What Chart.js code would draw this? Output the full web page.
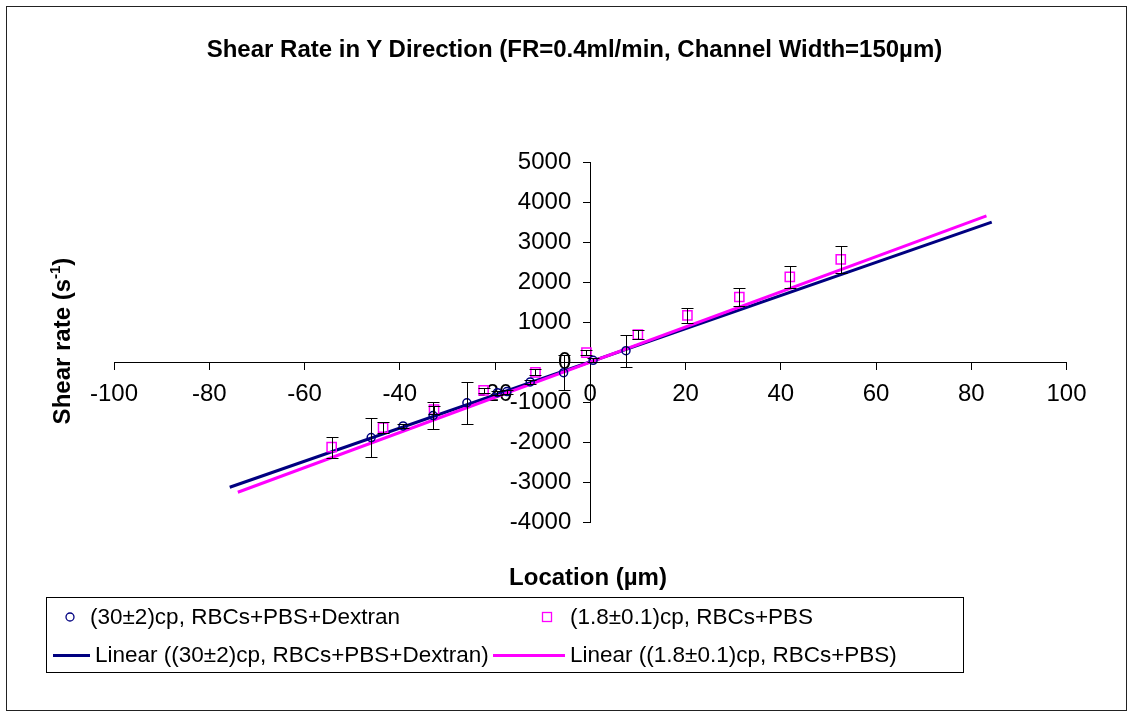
<!DOCTYPE html>
<html lang="en">
<head>
  <meta charset="UTF-8" />
  <title>Shear Rate in Y Direction</title>
  <script src="https://cdn.jsdelivr.net/npm/chart.js"></script>
  <style>
    body { margin: 0; background: #fff; font-family: "Liberation Sans", Arial, sans-serif; }
    #wrap { position: relative; width: 1133px; height: 719px; overflow: hidden; }
    #c { position: absolute; left: 0; top: 0; }
    #frame { position: absolute; left: 6px; top: 6px; width: 1121px; height: 705px; border: 1px solid #222; box-sizing: border-box; }
    .txt { position: absolute; white-space: nowrap; color: #000; line-height: 28px; }
    #title { left: 0; top: 35px; width: 1149px; text-align: center; font-weight: bold; font-size: 24px; }
    #xTitle { left: 588px; top: 577px; transform: translate(-50%, -50%); font-weight: bold; font-size: 24px; }
    #yTitle { left: 62px; top: 341px; transform: translate(-50%, -50%) rotate(-90deg); font-weight: bold; font-size: 24px; }
    #yTitle sup { font-size: 15px; vertical-align: 10px; line-height: 0; }
    #legendBox { position: absolute; left: 46px; top: 597px; width: 918px; height: 76px; border: 1px solid #000; box-sizing: border-box; }
    .leg { font-size: 22.5px; }
    .mk { position: absolute; }
  </style>
</head>
<body>
  <div id="wrap">
    <canvas id="c" width="1133" height="719"></canvas>
    <div id="frame"></div>
    <div class="txt" id="title">Shear Rate in Y Direction (FR=0.4ml/min, Channel Width=150µm)</div>
    <div class="txt" id="xTitle">Location (µm)</div>
    <div class="txt" id="yTitle">Shear rate (s<sup>-1</sup>)</div>

    <div id="legendBox"></div>
    <svg class="mk" style="left:64px;top:611px" width="12" height="12">
      <circle cx="6" cy="6" r="4" fill="none" stroke="#000080" stroke-width="1.3" />
    </svg>
    <div class="txt leg" style="left:90px;top:603px">(30±2)cp, RBCs+PBS+Dextran</div>
    <svg class="mk" style="left:541px;top:611px" width="12" height="12">
      <rect x="1.5" y="1.5" width="9" height="9" fill="none" stroke="#ff00ff" stroke-width="1.3" />
    </svg>
    <div class="txt leg" style="left:570px;top:603px">(1.8±0.1)cp, RBCs+PBS</div>
    <svg class="mk" style="left:53px;top:654px" width="37" height="3">
      <rect x="0" y="0" width="37" height="3" fill="#000080" />
    </svg>
    <div class="txt leg" style="left:95px;top:641px">Linear ((30±2)cp, RBCs+PBS+Dextran)</div>
    <svg class="mk" style="left:493px;top:654px" width="72" height="3">
      <rect x="0" y="0" width="72" height="3" fill="#ff00ff" />
    </svg>
    <div class="txt leg" style="left:570px;top:641px">Linear ((1.8±0.1)cp, RBCs+PBS)</div>
  </div>

  <script>
    // axis ranges (ticks come from the step)
    const xMin = -100, xMax = 100, xStep = 20;
    const yMin = -4000, yMax = 5000, yStep = 1000;

    // (30±2)cp, RBCs+PBS+Dextran
    const dextranX = [-46.0, -39.3, -33.0, -25.9, -19.5, -17.5, -12.6, -5.6, 0.6, 7.5];
    const dextranY = [-1880, -1590, -1330, -1010, -760, -730, -490, -260, 50, 290];
    const dextranErr = [480, 55, 340, 530, 50, 50, 50, 430, 50, 400];

    // (1.8±0.1)cp, RBCs+PBS
    const pbsX = [-54.3, -43.5, -32.8, -22.4, -11.5, -0.8, 10.0, 20.4, 31.3, 41.9, 52.6];
    const pbsY = [-2120, -1630, -1180, -700, -250, 240, 690, 1170, 1630, 2130, 2570];
    const pbsErr = [260, 145, 100, 60, 80, 60, 120, 180, 230, 270, 340];

    // linear trendline end points as drawn
    const dextranFitX = [-75.7, 84.3];
    const dextranFitY = [-3120, 3500];
    const pbsFitX = [-74.0, 83.2];
    const pbsFitY = [-3245, 3655];

    const NAVY = '#000080';
    const MAGENTA = '#ff00ff';
    const FONT = '"Liberation Sans", Arial, sans-serif';

    const pts = (xs, ys) => xs.map((x, i) => ({ x: x, y: ys[i] }));

    const errorBars = {
      id: 'errorBars',
      afterDatasetsDraw(chart) {
        const { ctx } = chart;
        const xs = chart.scales.x, ys = chart.scales.y;
        ctx.save();
        ctx.strokeStyle = '#000';
        ctx.lineWidth = 1;
        [[dextranX, dextranY, dextranErr], [pbsX, pbsY, pbsErr]].forEach(([dx, dy, de]) => {
          dx.forEach((xv, i) => {
            const px = Math.round(xs.getPixelForValue(xv)) + 0.5;
            const top = Math.round(ys.getPixelForValue(dy[i] + de[i])) + 0.5;
            const bot = Math.round(ys.getPixelForValue(dy[i] - de[i])) + 0.5;
            ctx.beginPath();
            ctx.moveTo(px, top); ctx.lineTo(px, bot);
            ctx.moveTo(px - 6, top); ctx.lineTo(px + 6, top);
            ctx.moveTo(px - 6, bot); ctx.lineTo(px + 6, bot);
            ctx.stroke();
          });
        });
        ctx.restore();
      }
    };

    const axisStyle = {
      grid: { drawOnChartArea: false, drawTicks: true, tickLength: 7, color: '#000' },
      border: { color: '#000', width: 1 }
    };

    new Chart(document.getElementById('c'), {
      type: 'scatter',
      data: {
        datasets: [
          {
            label: '(30±2)cp, RBCs+PBS+Dextran',
            data: pts(dextranX, dextranY),
            pointStyle: 'circle',
            pointRadius: 4,
            borderColor: NAVY,
            backgroundColor: 'rgba(0,0,0,0)',
            borderWidth: 1.5
          },
          {
            label: '(1.8±0.1)cp, RBCs+PBS',
            data: pts(pbsX, pbsY),
            pointStyle: 'rect',
            pointRadius: 6.5,
            borderColor: MAGENTA,
            backgroundColor: 'rgba(0,0,0,0)',
            borderWidth: 1.5
          },
          {
            label: 'Linear ((1.8±0.1)cp, RBCs+PBS)',
            data: pts(pbsFitX, pbsFitY),
            showLine: true,
            pointRadius: 0,
            borderColor: MAGENTA,
            borderWidth: 3
          },
          {
            label: 'Linear ((30±2)cp, RBCs+PBS+Dextran)',
            data: pts(dextranFitX, dextranFitY),
            showLine: true,
            pointRadius: 0,
            borderColor: NAVY,
            borderWidth: 3
          }
        ]
      },
      options: {
        responsive: false,
        animation: false,
        layout: { padding: { left: 114, right: 66.5, top: 162, bottom: 196.5 } },
        plugins: {
          legend: { display: false },
          title: { display: false },
          tooltip: { enabled: false }
        },
        scales: {
          x: {
            type: 'linear',
            position: { y: 0 },
            min: xMin, max: xMax,
            ticks: { stepSize: xStep, color: '#000', font: { family: FONT, size: 24 }, padding: 11, maxRotation: 0, autoSkip: false },
            ...axisStyle,
            afterFit: s => { s.height = 0; }
          },
          y: {
            type: 'linear',
            // x range is symmetric, so the centre of the plot is x = 0
            position: 'center',
            min: yMin, max: yMax,
            ticks: { stepSize: yStep, color: '#000', font: { family: FONT, size: 24 }, padding: 12, autoSkip: false,
                     callback: v => String(v) },
            ...axisStyle,
            afterFit: s => { s.width = 0; }
          }
        }
      },
      plugins: [errorBars]
    });
  </script>
</body>
</html>
